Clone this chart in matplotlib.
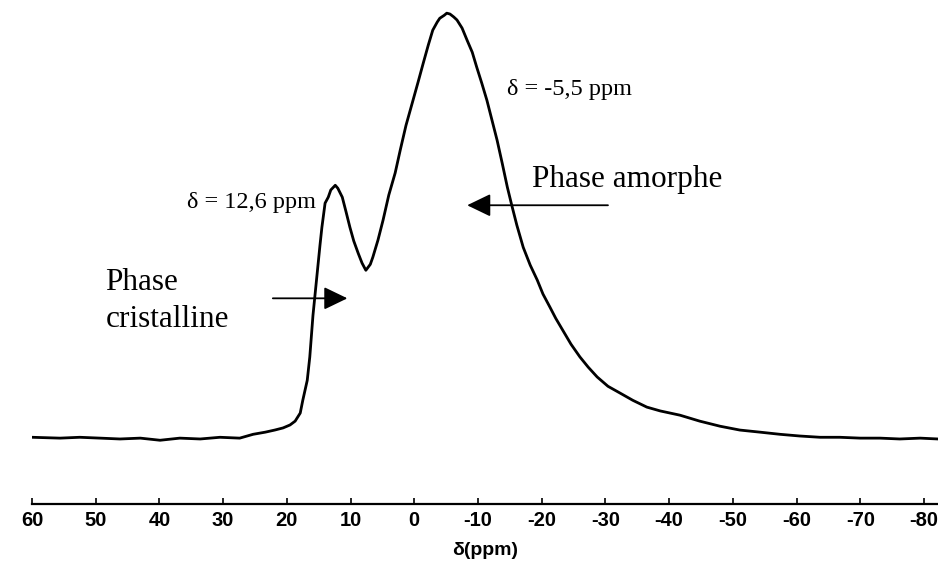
import matplotlib
matplotlib.use("Agg")
import matplotlib.pyplot as plt

# chemical shift (ppm) and relative intensity
shift_ppm = [60.0, 55.6, 52.5, 49.3, 46.2, 43.0, 39.9, 36.8, 33.6, 30.5, 27.4,
             25.3, 23.4, 21.9, 20.6, 19.5, 18.7, 17.9, 17.5, 16.8, 16.4, 15.9,
             15.3, 14.8, 14.5, 14.0, 13.5, 13.1, 12.4, 12.0, 11.3, 10.7, 10.1,
             9.5, 8.8, 8.2, 7.6, 6.9, 6.5, 5.7, 4.9, 4.0, 3.0, 2.2, 1.3, 0.2,
             -0.6, -1.4, -2.2, -2.9, -3.6, -4.0, -4.7, -5.1, -5.6, -6.2, -6.7,
             -7.5, -8.3, -9.1, -9.8, -10.6, -11.4, -12.2, -13.0, -13.8, -14.6,
             -15.3, -16.1, -17.1, -18.2, -19.3, -20.2, -21.3, -22.2, -23.3,
             -24.6, -26.0, -27.3, -28.7, -30.4, -32.3, -34.3, -36.5, -38.6,
             -41.7, -44.8, -48.0, -51.1, -54.3, -57.4, -60.5, -63.7, -66.8,
             -70.0, -73.1, -76.2, -79.4, -82.2]
intensity = [0.2, 0.0, 0.2, 0.0, -0.2, 0.0, -0.5, 0.0, -0.2, 0.2, 0.0,
             0.9, 1.4, 1.9, 2.4, 3.1, 4.0, 5.9, 8.9, 13.6, 19.1, 28.9,
             37.9, 45.4, 49.6, 55.3, 56.7, 58.4, 59.5, 58.8, 56.7, 53.2, 49.6,
             46.4, 43.5, 41.2, 39.5, 40.9, 42.6, 46.6, 51.3, 57.2, 62.4, 67.8,
             73.6, 79.5, 83.8, 88.2, 92.5, 96.0, 97.9, 98.8, 99.5, 100.0, 99.8,
             99.1, 98.4, 96.5, 93.6, 90.8, 87.3, 83.5, 79.5, 74.8, 70.1, 64.7,
             59.1, 54.8, 50.1, 44.9, 40.7, 37.2, 33.9, 30.8, 28.2, 25.4, 22.1,
             19.1, 16.7, 14.4, 12.2, 10.6, 8.9, 7.3, 6.4, 5.4, 4.0, 2.8, 1.9,
             1.4, 0.9, 0.5, 0.2, 0.2, 0.0, 0.0, -0.2, 0.0, -0.2]

tick_values = [60, 50, 40, 30, 20, 10, 0, -10, -20, -30, -40, -50, -60, -70, -80]
tick_labels = [str(v) for v in tick_values]

fig = plt.figure(figsize=(9.38, 5.63), dpi=100)
ax = fig.add_axes([32 / 938, 59 / 563, 906 / 938, 504 / 563])
ax.plot(shift_ppm, intensity, color="black", lw=2.0)
ax.set_xlim(60, -82.2)
ax.set_ylim(-15.5, 103.1)

for s in ("left", "top", "right"):
    ax.spines[s].set_visible(False)
ax.spines["bottom"].set_linewidth(1.6)
ax.set_yticks([])
ax.set_xticks(tick_values)
ax.set_xticklabels(tick_labels, fontfamily="Liberation Sans",
                   fontweight="bold", fontsize=14.5)
ax.tick_params(axis="x", direction="in", length=4, width=1.2, pad=5)
ax.set_xlabel("δ(ppm)", fontfamily=["Liberation Sans", "DejaVu Sans"],
              fontweight="bold", fontsize=14, labelpad=9)

serif = ["Liberation Serif", "DejaVu Serif"]
ax.text(48.5, 34.8, "Phase", fontfamily=serif, fontsize=22.5, ha="left",
        va="baseline")
ax.text(48.5, 26.1, "cristalline", fontfamily=serif, fontsize=22.5,
        ha="left", va="baseline")
ax.text(15.4, 54.1, "δ = 12,6 ppm", fontfamily=serif, fontsize=17.5,
        ha="right", va="baseline")
ax.text(-14.6, 80.7, "δ = -5,5 ppm", fontfamily=serif, fontsize=17.5,
        ha="left", va="baseline")
ax.text(-18.5, 59.1, "Phase amorphe", fontfamily=serif, fontsize=22.5,
        ha="left", va="baseline")

arrow_style = "-|>,head_length=1.45,head_width=0.7"
ax.annotate("", xy=(10.5, 32.9), xytext=(22.2, 32.9),
            arrowprops=dict(arrowstyle=arrow_style, color="black", lw=1.3,
                            mutation_scale=10, shrinkA=0, shrinkB=0))
ax.annotate("", xy=(-8.3, 54.8), xytext=(-30.4, 54.8),
            arrowprops=dict(arrowstyle=arrow_style, color="black", lw=1.3,
                            mutation_scale=10, shrinkA=0, shrinkB=0))

fig.savefig("out.png", dpi=100)
